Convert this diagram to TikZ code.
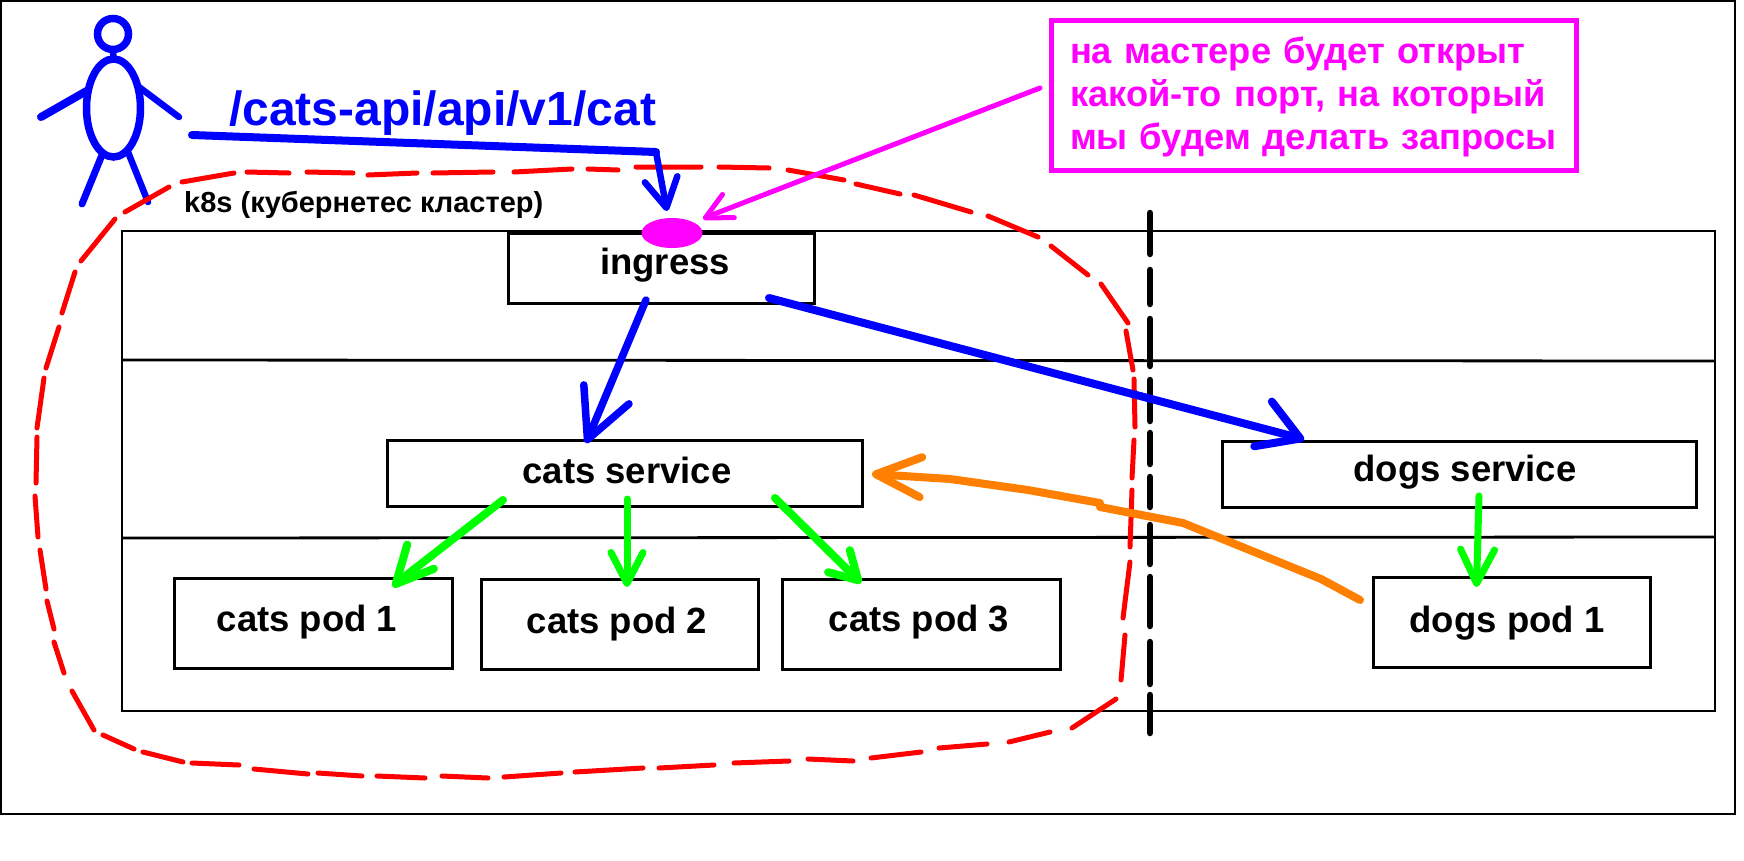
\documentclass[tikz,border=0pt]{standalone}
\usepackage{fontspec}
\setmainfont{Liberation Sans}
\usetikzlibrary{arrows.meta,shapes.geometric}
\definecolor{ublue}{RGB}{0,0,255}
\definecolor{umag}{RGB}{255,0,255}
\definecolor{ugreen}{RGB}{0,255,0}
\definecolor{uorange}{RGB}{255,128,0}
\definecolor{ured}{RGB}{255,0,0}
\tikzset{
  frame/.style={draw=black,line width=2.8pt},
  boxn/.style={draw=black,fill=white,line width=3pt,inner sep=0pt,outer sep=0pt,font=\bfseries\fontsize{36.5}{43}\selectfont},
  barb/.style 2 args={-{Straight Barb[length=#1pt,width=#2pt,round]}},
  conn/.style={line width=#1pt,line cap=round,line join=round},
  person/.style={draw=ublue,line width=7.5pt,ellipse,inner sep=0pt,outer sep=0pt},
  limb/.style={draw=ublue,line width=#1pt,line cap=round},
  redline/.style={draw=ured,line width=5pt,line cap=round},
  divider/.style={draw=black,line width=6.5pt,line cap=round,
    dash pattern=on 41pt off 16pt on 34pt off 15pt on 47pt off 14pt on 41pt off 12pt on 31pt off 13pt on 30pt off 18pt on 39pt off 13pt on 49pt off 16pt on 42pt off 11pt on 38pt off 99pt},
}
\begin{document}
\begin{tikzpicture}[x=1pt,y=-1pt]
\useasboundingbox (0,0) rectangle (1744,860);
\fill[white] (0,0) rectangle (1744,860);
\draw[black,line width=2pt] (1,1) rectangle (1735,814);
% main frame
\draw[frame] (122,231) rectangle (1715,711);
\draw[frame] (122,360) -- (1715,361);
\draw[frame] (122,538) -- (1715,537);
% boxes
\node[boxn,minimum width=306pt,minimum height=70pt,text height=24pt,text depth=12pt] (ingress) at (661,268) {\hspace*{8pt}ingress};
\node[boxn,minimum width=475pt,minimum height=66pt,text height=28pt,text depth=8pt] (cats) at (624.5,473) {\hspace*{5pt}cats service};
\node[boxn,minimum width=474pt,minimum height=66pt,text height=23pt,text depth=8pt] (dogs) at (1459,474) {\hspace*{12pt}dogs service};
\node[boxn,minimum width=278pt,minimum height=90pt,text height=25pt,text depth=8pt] (pod1) at (313,623) {\hspace*{-12pt}cats pod 1};
\node[boxn,minimum width=277pt,minimum height=90pt,text height=26pt,text depth=8pt] (pod2) at (619.5,624) {\hspace*{-5pt}cats pod 2};
\node[boxn,minimum width=278pt,minimum height=90pt,text height=23pt,text depth=8pt] (pod3) at (921,624) {\hspace*{-4pt}cats pod 3};
\node[boxn,minimum width=277pt,minimum height=90pt,text height=29pt,text depth=8pt] (dogspod) at (1511.5,622) {\hspace*{-9pt}dogs pod 1};
\node[fill=umag,ellipse,inner sep=0pt,outer sep=0pt,minimum width=61pt,minimum height=30pt] (port) at (672,233) {};
% labels
\node[anchor=base west,inner sep=0pt,text=ublue,font=\bfseries\fontsize{48}{56}\selectfont] (route) at (229,125) {/cats-api/api/v1/cat};
\node[anchor=base west,inner sep=0pt,font=\bfseries\fontsize{29}{34}\selectfont] (k8s) at (184,212) {k8s (кубернетес кластер)};
\node[draw=umag,line width=5pt,text=umag,inner xsep=19pt,inner ysep=0pt,outer sep=0pt,minimum height=150pt,text width=487pt,align=left,font=\bfseries\fontsize{36.3}{43}\selectfont] (note) at (1313.5,95) {\rule{0pt}{31pt}на мастере будет открыт\\какой-то порт, на который\\мы будем делать запросы};
% person
\node[person,minimum width=31pt,minimum height=31pt] (head) at (113,34) {};
\node[person,minimum width=54pt,minimum height=98pt] (body) at (113.5,108) {};
\draw[limb=6.5] (head.south) -- (body.north);
\coordinate (handL) at (41,117);
\coordinate (handR) at (179,117);
\coordinate (footL) at (82,204);
\coordinate (footR) at (148,202);
\draw[limb=8] ([shift={(0,-17)}]body.west) -- (handL);
\draw[limb=6.5] ([shift={(-1.5,-21)}]body.east) -- (handR);
\draw[limb=7] ([shift={(-11.5,47)}]body.center) -- (footL);
\draw[limb=6.5] ([shift={(14.5,44)}]body.center) -- (footR);
% boundary
\draw[redline]
 (182,182)--(234,173) (247,172)--(289,173) (307,172)--(353,173) (368,175)--(417,173)
 (433,173)--(493,172) (514,172)--(572,169) (588,169)--(618,170) (636,167)--(701,167)
 (719,167)--(769,168) (788,170)--(844,180) (856,184)--(900,194) (914,195)--(971,212)
 (988,216)--(1038,237) (1051,246)--(1088,275) (1101,284)--(1128,323) (1126,331)--(1133,370)
 (1134,379)--(1135,427) (1134,440)--(1132,478) (1132,490)--(1130,547) (1130,562)--(1123,618)
 (1125,635)--(1121,680) (1116,699)--(1072,728) (1050,732)--(1009,742) (987,744)--(939,748)
 (921,752)--(871,758) (853,761)--(808,759) (789,761)--(734,763) (714,765)--(659,768)
 (643,768)--(575,772) (561,773)--(504,777) (488,778)--(442,776) (425,778)--(377,776)
 (362,776)--(318,773) (308,774)--(254,769) (239,765)--(192,763) (183,762)--(143,752)
 (134,749)--(103,735) (94,730)--(72,691) (64,673)--(54,642) (54,629)--(47,601)
 (46,589)--(40,550) (38,537)--(35,496) (36,483)--(37,437) (37,428)--(44,378)
 (46,368)--(59,327) (62,313)--(75,272) (81,261)--(115,219) (125,212)--(169,187);
% divider
\coordinate (divTop) at (1150,213);
\coordinate (divBot) at (1150,735);
\draw[divider] (divTop) -- (divBot);
% connectors
\coordinate (reqBend) at (656,152);
\draw[conn=8,draw=ublue] ([shift={(51.5,27)}]body.east) -- (reqBend);
\draw[conn=6.5,draw=ublue,barb={29}{33}] (reqBend) -- ([shift={(-5,-7)}]port.north);
\draw[conn=5,draw=umag,barb={26}{26}] ([shift={(-11,-7)}]note.west) -- ([shift={(5.8,-16.7)}]port.east) -- ([shift={(0.5,-14)}]port.east);
\draw[conn=7.5,draw=ublue,barb={49}{49}] ([shift={(-15,-3)}]ingress.south) -- ([shift={(-38.5,3)}]cats.north);
\draw[conn=8,draw=ublue,barb={40}{48}] ([shift={(108,-5)}]ingress.south) -- ([shift={(-160.6,-3.2)}]dogs.north) -- ([shift={(-155,-1)}]dogs.north);
\draw[conn=8,draw=ugreen,barb={37}{36}] ([shift={(-121.5,-6)}]cats.south) -- ([shift={(84,4.6)}]pod1.north) -- ([shift={(80,9)}]pod1.north);
\draw[conn=7,draw=ugreen,barb={31}{32}] ([shift={(2.5,-7)}]cats.south) -- ([shift={(7.5,8)}]pod2.north);
\draw[conn=8,draw=ugreen,barb={27}{31}] ([shift={(150.5,-8)}]cats.south) -- ([shift={(-60,4)}]pod3.north);
\draw[conn=7,draw=ugreen,barb={34}{34}] ([shift={(20,-11)}]dogs.south) -- ([shift={(-35,10)}]dogspod.north);
\draw[conn=8,draw=uorange,barb={45}{40}] ([shift={(-13,-22)}]dogspod.west) -- (1321,579) -- (1183,523) -- (1100,507) -- (1100,503) -- (1028,490) -- (950,479) -- ([shift={(10,1)}]cats.east);
\end{tikzpicture}
\end{document}
